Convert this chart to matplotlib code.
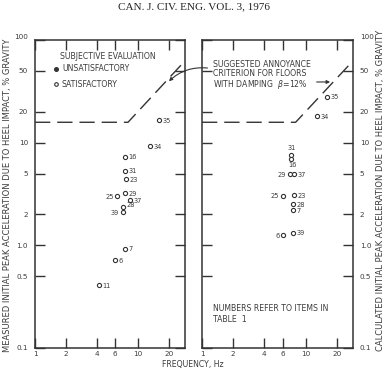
import matplotlib
matplotlib.use('Agg')
import matplotlib.pyplot as plt

# ---- data ----
# measured accelerations (left panel)
items_meas = ['35', '34', '16', '31', '23', '29', '25', '37', '28', '39', '7', '6', '11']
freq_meas = [16.1, 13.1, 7.5, 7.5, 7.6, 7.5, 6.3, 8.4, 7.2, 7.1, 7.5, 6.0, 4.2]
acc_meas = [16.5, 9.2, 7.3, 5.35, 4.4, 3.2, 3.0, 2.75, 2.35, 2.1, 0.93, 0.72, 0.41]

# calculated accelerations (right panel)
items_calc = ['35', '34', '31', '16', '29', '37', '25', '23', '28', '7', '6', '39']
freq_calc = [16.0, 13.0, 7.25, 7.25, 7.0, 7.7, 6.0, 7.7, 7.6, 7.6, 6.1, 7.6]
acc_calc = [28.0, 18.0, 7.6, 7.0, 4.95, 4.95, 3.05, 3.1, 2.5, 2.2, 1.25, 1.33]

# suggested annoyance criterion (dashed)
crit_freq = [1, 8, 30]
crit_acc = [15.8, 15.8, 66]

x_ticks = [1, 2, 4, 6, 10, 20]
x_labels = ['1', '2', '4', '6', '10', '20']
y_ticks = [0.1, 0.5, 1, 2, 5, 10, 20, 50, 100]
y_labels = ['0.1', '0.5', '1.0', '2', '5', '10', '20', '50', '100']

# where the item number sits relative to its circle
side_meas = {'25': 'l', '39': 'l', '28': 'ur'}
side_calc = {'31': 'u', '16': 'd', '29': 'l', '25': 'l', '6': 'l'}

ink = '#333333'
txt = '#3c3c3c'
fs = 5.6

W, H = 387, 372
fig = plt.figure(figsize=(W / 100, H / 100), dpi=100)
ax1 = fig.add_axes([35 / W, 24 / H, 150 / W, 308 / H])
ax2 = fig.add_axes([202 / W, 24 / H, 151 / W, 308 / H])


def style_axes(ax, right_labels=False):
    ax.set_xscale('log')
    ax.set_yscale('log')
    ax.set_xlim(1, 28.6)
    ax.set_ylim(0.1, 100)
    for s in ax.spines.values():
        s.set_linewidth(1.1)
        s.set_color(ink)
    ax.set_xticks(x_ticks, x_labels)
    ax.set_yticks(y_ticks, y_labels)
    ax.minorticks_off()
    ax.tick_params(axis='both', direction='in', length=7, width=1.0, color=ink,
                   labelsize=5.2, labelcolor=txt, top=True, right=True)
    ax.tick_params(axis='x', pad=2)
    ax.tick_params(axis='y', pad=5, labelleft=not right_labels, labelright=right_labels)
    labs = ax.get_yticklabels()
    labs[-1].set_va('bottom')


def plot_items(ax, freq, acc, items, sides):
    ax.plot(freq, acc, 'o', ms=3.0, mfc='white', mec=ink, mew=0.8, ls='none', zorder=3)
    for f, a, it in zip(freq, acc, items):
        s = sides.get(it, 'r')
        if s == 'l':
            ax.annotate(it, (f, a), xytext=(-2.5, -0.5), textcoords='offset points',
                        ha='right', va='center', fontsize=4.8, color=txt)
        elif s == 'u':
            ax.annotate(it, (f, a), xytext=(0, 2.5), textcoords='offset points',
                        ha='center', va='bottom', fontsize=4.8, color=txt)
        elif s == 'd':
            ax.annotate(it, (f, a), xytext=(1, -2.5), textcoords='offset points',
                        ha='center', va='top', fontsize=4.8, color=txt)
        elif s == 'ur':
            ax.annotate(it, (f, a), xytext=(2.5, 1.5), textcoords='offset points',
                        ha='left', va='center', fontsize=4.8, color=txt)
        else:
            ax.annotate(it, (f, a), xytext=(2.5, -0.5), textcoords='offset points',
                        ha='left', va='center', fontsize=4.8, color=txt)


for ax in (ax1, ax2):
    ax.plot(crit_freq, crit_acc, color=ink, lw=1.0, dashes=(11, 5), dash_capstyle='butt')

style_axes(ax1)
style_axes(ax2, right_labels=True)
plot_items(ax1, freq_meas, acc_meas, items_meas, side_meas)
plot_items(ax2, freq_calc, acc_calc, items_calc, side_calc)

# legend block, left panel
ax1.text(0.167, 0.945, 'SUBJECTIVE EVALUATION', transform=ax1.transAxes,
         fontsize=fs, color=txt, va='center')
ax1.plot([0.14], [0.906], 'o', ms=2.6, color=ink, transform=ax1.transAxes)
ax1.text(0.18, 0.906, 'UNSATISFACTORY', transform=ax1.transAxes,
         fontsize=fs, color=txt, va='center')
ax1.plot([0.14], [0.857], 'o', ms=2.6, mfc='white', mec=ink, mew=0.8, transform=ax1.transAxes)
ax1.text(0.18, 0.857, 'SATISFACTORY', transform=ax1.transAxes,
         fontsize=fs, color=txt, va='center')

# criterion note, right panel
ax2.text(0.075, 0.885, 'SUGGESTED ANNOYANCE\nCRITERION FOR FLOORS\nWITH DAMPING  $\\beta$=12%',
         transform=ax2.transAxes, fontsize=fs, color=txt, va='center', linespacing=1.05)
ax2.annotate('', xy=(18.3, 39), xytext=(12.0, 39),
             arrowprops=dict(arrowstyle='-|>', color=ink, lw=0.8, mutation_scale=5))
ax2.annotate('', xy=(19.1, 38), xycoords=ax1.transData, xytext=(1.2, 53),
             textcoords=ax2.transData, annotation_clip=False,
             arrowprops=dict(arrowstyle='-|>', color=ink, lw=0.8, mutation_scale=5,
                             connectionstyle='arc3,rad=0.25'))

ax2.text(0.075, 0.11, 'NUMBERS REFER TO ITEMS IN\nTABLE  1', transform=ax2.transAxes,
         fontsize=fs, color=txt, va='center', linespacing=1.3)

# page furniture
fig.text(0.5, 1 - 7 / H, 'CAN. J. CIV. ENG. VOL. 3, 1976', ha='center', va='center',
         family='Liberation Serif', fontsize=8, color='#222222')
fig.text(193 / W, 1 - 364 / H, 'FREQUENCY, Hz', ha='center', va='center',
         fontsize=fs, color=txt)
fig.text(8 / W, 1 - 195 / H, 'MEASURED INITIAL PEAK ACCELERATION DUE TO HEEL IMPACT, % GRAVITY',
         rotation=90, ha='center', va='center', fontsize=6.0, color=txt)
fig.text(381 / W, 1 - 190 / H, 'CALCULATED INITIAL PEAK ACCELERATION DUE TO HEEL IMPACT, % GRAVITY',
         rotation=90, ha='center', va='center', fontsize=6.0, color=txt)

fig.savefig('out.png', dpi=100, facecolor='white')
